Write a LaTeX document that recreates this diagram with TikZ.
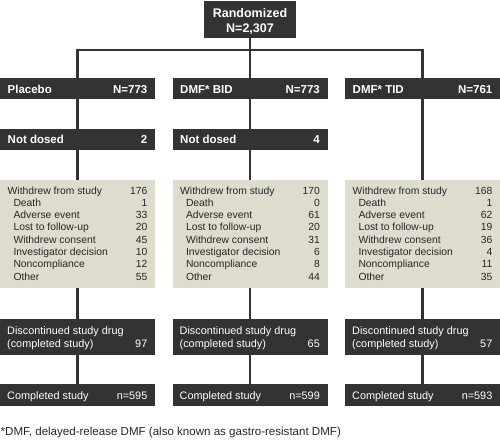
\documentclass[tikz,border=0pt]{standalone}
\usepackage{fontspec}
\setmainfont{Liberation Sans}
\definecolor{dk}{HTML}{333333}
\definecolor{bg}{HTML}{DEDCCD}
\definecolor{tx}{HTML}{262626}
\begin{document}
\begin{tikzpicture}[x=1pt,y=-1pt,
  box/.style={rectangle, inner sep=0pt, outer sep=0pt, draw=none, anchor=north west, minimum width=155pt},
  dbox/.style={box, fill=dk},
  lbox/.style={box, fill=bg},
  conn/.style={draw=dk, line width=2.6pt},
  hdl/.style={inner sep=0pt, anchor=base west, text=white, font=\fontsize{11.5}{13}\selectfont\bfseries},
  hdr/.style={inner sep=0pt, anchor=base east, text=white, font=\fontsize{11.5}{13}\selectfont\bfseries},
  wl/.style={inner sep=0pt, anchor=base west, text=white, font=\fontsize{10.85}{12}\selectfont},
  wr/.style={inner sep=0pt, anchor=base east, text=white, font=\fontsize{10.85}{12}\selectfont},
  bl/.style={inner sep=0pt, anchor=base west, text=tx, font=\fontsize{10.35}{12}\selectfont},
  br/.style={inner sep=0pt, anchor=base east, text=tx, font=\fontsize{10.35}{12}\selectfont},
]
\useasboundingbox (0,0) rectangle (500,440);

% Randomized
\node[dbox, minimum width=92pt, minimum height=37pt] (rand) at (204,1) {};
\node[inner sep=0pt, anchor=base, text=white, font=\fontsize{12.5}{14}\selectfont\bfseries] (randt1) at (250,17.3) {Randomized};
\node[inner sep=0pt, anchor=base, text=white, font=\fontsize{12.5}{14}\selectfont\bfseries] (randt2) at (250,32.3) {N=2,307};

% arm headers
\node[dbox, minimum height=21pt] (arm1) at (0,78) {};
\node[dbox, minimum height=21pt] (arm2) at (172.5,78) {};
\node[dbox, minimum height=21pt] (arm3) at (345,78) {};
\node[hdl] (arm1a) at (7.5,93) {Placebo};
\node[hdr] (arm1b) at (147.5,93) {N=773};
\node[hdl] (arm2a) at (180,93) {DMF* BID};
\node[hdr] (arm2b) at (320,93) {N=773};
\node[hdl] (arm3a) at (352.5,93) {DMF* TID};
\node[hdr] (arm3b) at (492.5,93) {N=761};

% not dosed
\node[dbox, minimum height=21pt] (nd1) at (0,129) {};
\node[dbox, minimum height=21pt] (nd2) at (172.5,129) {};
\node[hdl] (nd1a) at (7.5,143.5) {Not dosed};
\node[hdr] (nd1b) at (147.5,143.5) {2};
\node[hdl] (nd2a) at (180,143.5) {Not dosed};
\node[hdr] (nd2b) at (320,143.5) {4};

% withdrew boxes
\node[lbox, minimum height=108pt] (wd1) at (0,179.5) {};
\node[lbox, minimum height=108pt] (wd2) at (172.5,179.5) {};
\node[lbox, minimum height=108pt] (wd3) at (345,179.5) {};
\node[bl] (w1h) at (7.5,194) {Withdrew from study};
\node[br] (w1n) at (147.5,194) {176};
\node[bl] (w2h) at (180,194) {Withdrew from study};
\node[br] (w2n) at (320,194) {170};
\node[bl] (w3h) at (352.5,194) {Withdrew from study};
\node[br] (w3n) at (492.5,194) {168};
\foreach \lab/\a/\b/\c [count=\i] in {Death/1/0/1, Adverse event/33/61/62, Lost to follow-up/20/20/19, Withdrew consent/45/31/36, Investigator decision/10/6/4, Noncompliance/12/8/11, Other/55/44/35}{
  \pgfmathsetmacro{\yy}{194+12.33*\i}
  \node[bl] (l1-\i) at (13.3,\yy) {\lab};
  \node[br] (n1-\i) at (147.5,\yy) {\a};
  \node[bl] (l2-\i) at (185.8,\yy) {\lab};
  \node[br] (n2-\i) at (320,\yy) {\b};
  \node[bl] (l3-\i) at (358.3,\yy) {\lab};
  \node[br] (n3-\i) at (492.5,\yy) {\c};
}

% discontinued
\node[dbox, minimum height=36pt] (dc1) at (0,318.5) {};
\node[dbox, minimum height=36pt] (dc2) at (172.5,318.5) {};
\node[dbox, minimum height=36pt] (dc3) at (345,318.5) {};
\node[wl] (dc1a) at (7,334.5) {Discontinued study drug};
\node[wl] (dc1b) at (7,347.3) {(completed study)};
\node[wr] (dc1c) at (147.5,347.3) {97};
\node[wl] (dc2a) at (179.5,334.5) {Discontinued study drug};
\node[wl] (dc2b) at (179.5,347.3) {(completed study)};
\node[wr] (dc2c) at (320,347.3) {65};
\node[wl] (dc3a) at (352,334.5) {Discontinued study drug};
\node[wl] (dc3b) at (352,347.3) {(completed study)};
\node[wr] (dc3c) at (492.5,347.3) {57};

% completed
\node[dbox, minimum height=22pt] (cp1) at (0,384) {};
\node[dbox, minimum height=22pt] (cp2) at (172.5,384) {};
\node[dbox, minimum height=22pt] (cp3) at (345,384) {};
\node[wl] (cp1a) at (7,399) {Completed study};
\node[wr] (cp1b) at (147.5,399) {n=595};
\node[wl] (cp2a) at (179.5,399) {Completed study};
\node[wr] (cp2b) at (320,399) {n=599};
\node[wl] (cp3a) at (352,399) {Completed study};
\node[wr] (cp3b) at (492.5,399) {n=593};

% footnote
\node[inner sep=0pt, anchor=base west, text=tx, font=\fontsize{11.55}{13}\selectfont] (foot) at (0.5,435) {*DMF, delayed-release DMF (also known as gastro-resistant DMF)};

% connectors
\coordinate (hl) at (77.5,50);
\coordinate (hr) at (422.5,50);
\draw[conn] (rand.south) -- (arm2.north);
\draw[conn] (arm1.north) -- (hl) -- (hr) -- (arm3.north);
\draw[conn] (arm1.south) -- (nd1.north);
\draw[conn] (arm2.south) -- (nd2.north);
\draw[conn] (arm3.south) -- (wd3.north);
\draw[conn] (nd1.south) -- (wd1.north);
\draw[conn] (nd2.south) -- (wd2.north);
\foreach \k in {1,2,3}{
  \draw[conn] (wd\k.south) -- (dc\k.north);
  \draw[conn] (dc\k.south) -- (cp\k.north);
}
\end{tikzpicture}
\end{document}
